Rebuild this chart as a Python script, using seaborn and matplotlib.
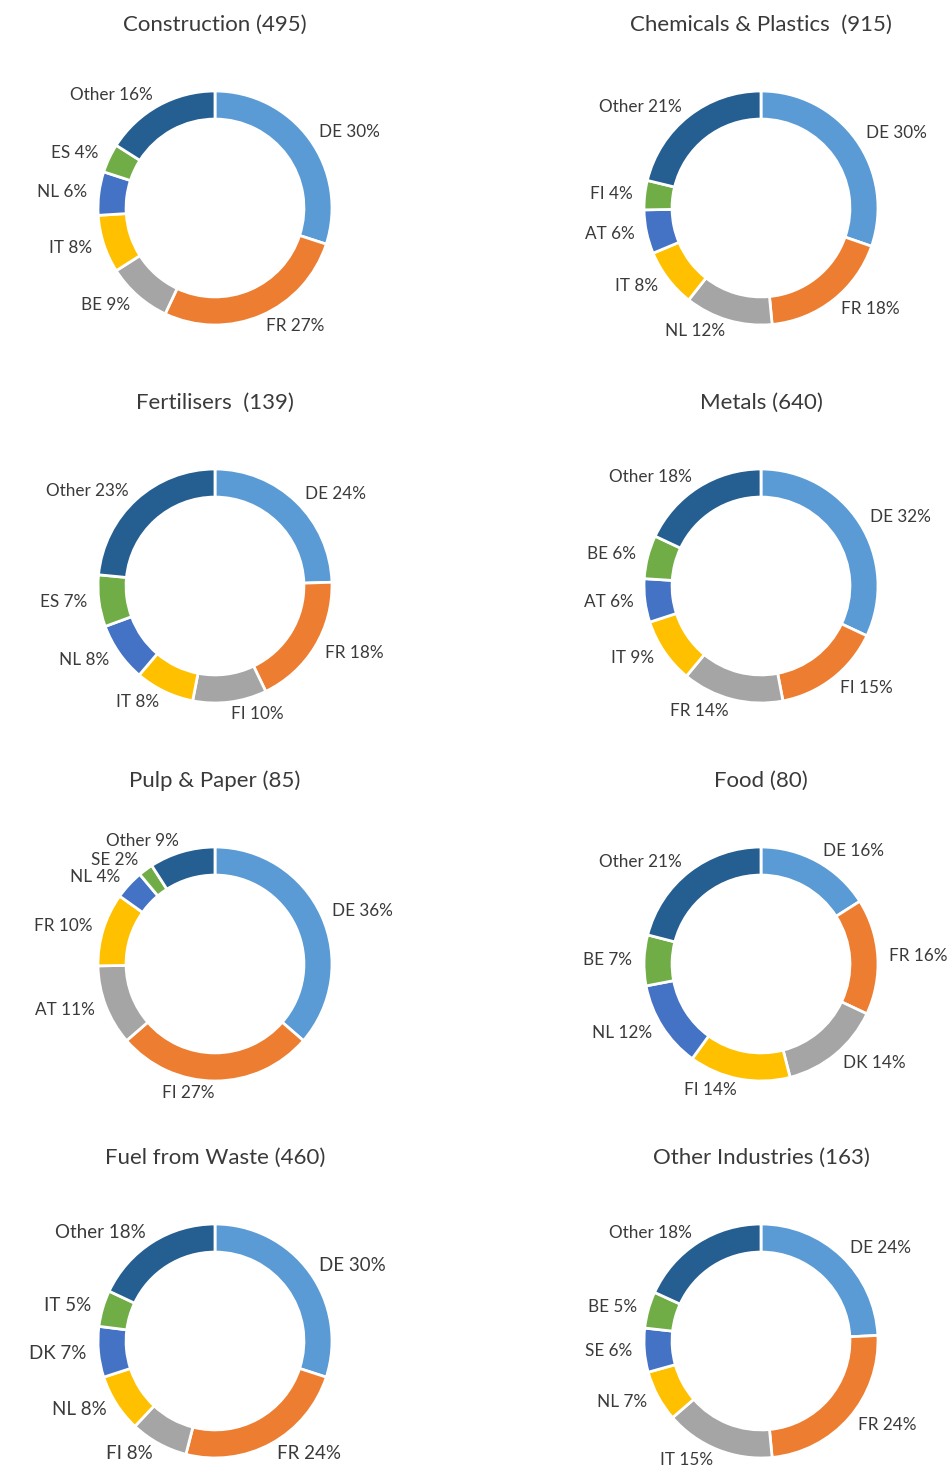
import matplotlib
matplotlib.use("Agg")
import matplotlib.pyplot as plt
import seaborn as sns

sns.set_theme(style="white")
plt.rcParams["font.family"] = ["Lato", "DejaVu Sans"]

# Sector titles with number of plants
titles = [
    "Construction (495)", "Chemicals & Plastics  (915)",
    "Fertilisers  (139)", "Metals (640)",
    "Pulp & Paper (85)", "Food (80)",
    "Fuel from Waste (460)", "Other Industries (163)",
]

# Country shares per sector (%), clockwise from 12 o'clock
construction_countries = ["DE", "FR", "BE", "IT", "NL", "ES", "Other"]
construction_shares = [30, 27, 9, 8, 6, 4, 16]

chemicals_countries = ["DE", "FR", "NL", "IT", "AT", "FI", "Other"]
chemicals_shares = [30, 18, 12, 8, 6, 4, 21]

fertilisers_countries = ["DE", "FR", "FI", "IT", "NL", "ES", "Other"]
fertilisers_shares = [24, 18, 10, 8, 8, 7, 23]

metals_countries = ["DE", "FI", "FR", "IT", "AT", "BE", "Other"]
metals_shares = [32, 15, 14, 9, 6, 6, 18]

pulp_countries = ["DE", "FI", "AT", "FR", "NL", "SE", "Other"]
pulp_shares = [36, 27, 11, 10, 4, 2, 9]

food_countries = ["DE", "FR", "DK", "FI", "NL", "BE", "Other"]
food_shares = [16, 16, 14, 14, 12, 7, 21]

fuel_countries = ["DE", "FR", "FI", "NL", "DK", "IT", "Other"]
fuel_shares = [30, 24, 8, 8, 7, 5, 18]

other_countries = ["DE", "FR", "IT", "NL", "SE", "BE", "Other"]
other_shares = [24, 24, 15, 7, 6, 5, 18]

sectors = [
    (construction_countries, construction_shares),
    (chemicals_countries, chemicals_shares),
    (fertilisers_countries, fertilisers_shares),
    (metals_countries, metals_shares),
    (pulp_countries, pulp_shares),
    (food_countries, food_shares),
    (fuel_countries, fuel_shares),
    (other_countries, other_shares),
]

palette = sns.color_palette(
    ["#5B9BD5", "#ED7D31", "#A5A5A5", "#FFC000", "#4472C4", "#70AD47", "#255E91"]
)

W, H = 949, 1481
fig = plt.figure(figsize=(W / 100, H / 100), dpi=100)
fig.patch.set_facecolor("white")

col_x = [215, 761]
row_y = [208, 586, 964, 1341]
R = 117          # outer radius in pixels
L = 1.7          # half-extent of each axes in radius units
TEXT = "#3a3a3a"

for i, (title, (countries, shares)) in enumerate(zip(titles, sectors)):
    cx = col_x[i % 2]
    cy = row_y[i // 2]
    size = 2 * L * R
    ax = fig.add_axes([(cx - L * R) / W, 1 - (cy + L * R) / H, size / W, size / H])
    ax.set_facecolor("none")
    labels = [f"{c} {s}%" for c, s in zip(countries, shares)]
    fs = 13.5 if i == 6 else 12.3
    ax.pie(
        shares, labels=labels, colors=palette, startangle=90, counterclock=False,
        radius=1.0, labeldistance=1.1,
        wedgeprops=dict(width=0.24, edgecolor="white", linewidth=2),
        textprops=dict(color=TEXT, fontsize=fs),
    )
    ax.set_xlim(-L, L)
    ax.set_ylim(-L, L)
    ax.axis("off")
    fig.text(cx / W, 1 - (cy - R - 66) / H, title, ha="center", va="center",
             fontsize=16, color=TEXT)

fig.savefig("out.png", dpi=100, facecolor="white")
